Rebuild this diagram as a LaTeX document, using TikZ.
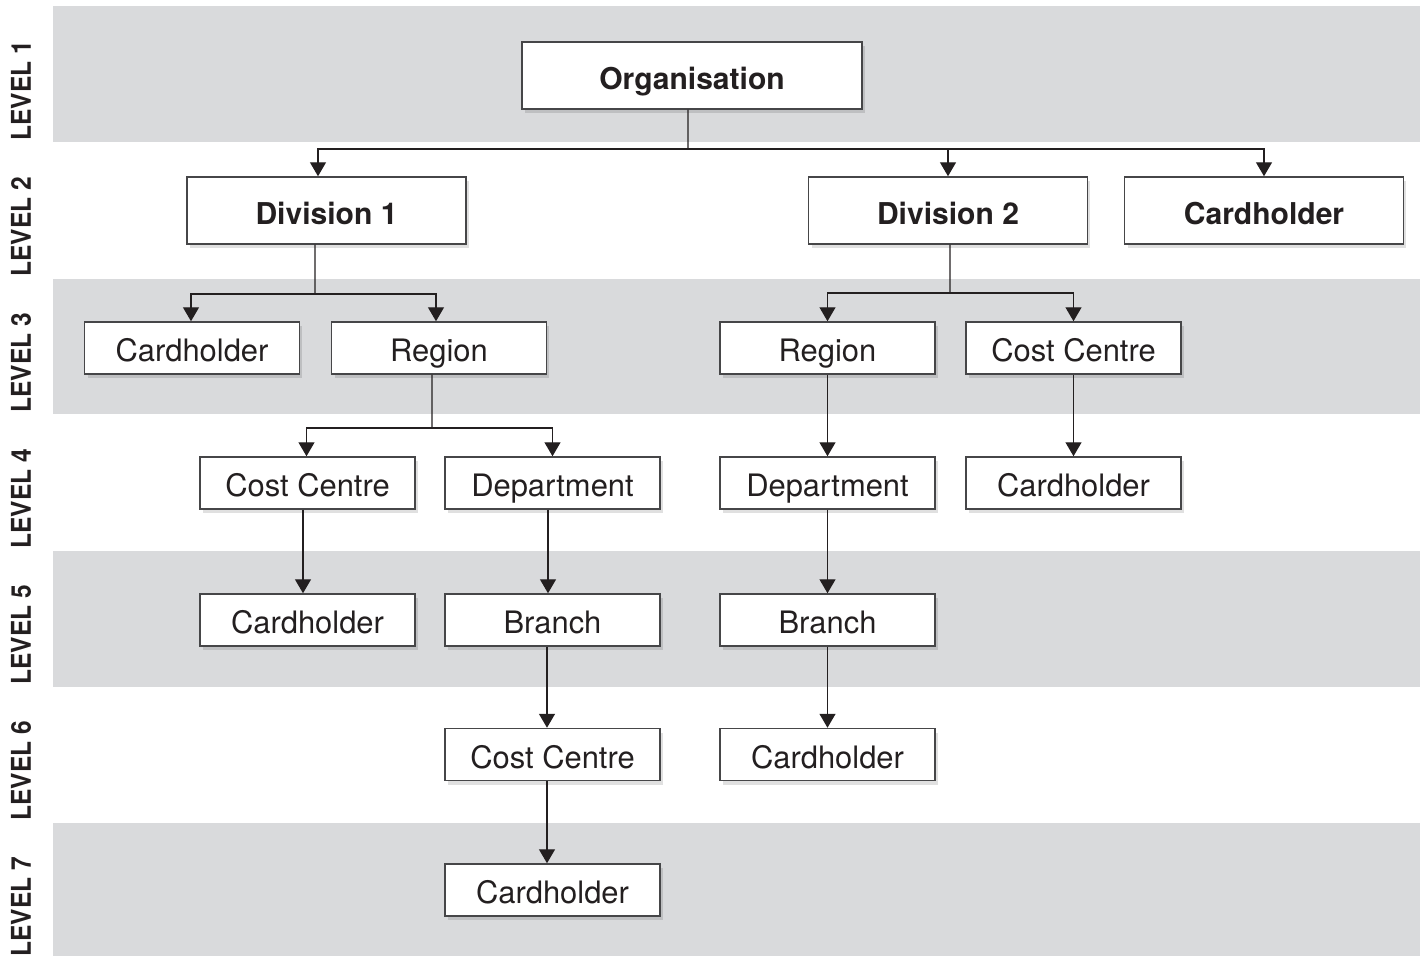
\documentclass[tikz,border=0pt]{standalone}
\usepackage{fontspec}
\setmainfont{TeX Gyre Heros}
\usepackage{graphicx}
\usetikzlibrary{arrows.meta,shadows}
\definecolor{band}{RGB}{217,218,220}
\definecolor{ink}{RGB}{35,31,32}
\definecolor{edge}{RGB}{70,70,72}
\tikzset{
  box/.style={draw=edge, line width=0.03cm, fill=white, text=ink, inner sep=0pt,
    text height=15.4pt, text depth=0pt,
    font=\fontsize{17.6}{20}\selectfont,
    drop shadow={shadow xshift=0.06cm, shadow yshift=-0.08cm, opacity=0.12, fill=black}},
  big/.style={box, minimum width=5.58cm, minimum height=1.34cm, font=\fontsize{17.1}{20}\selectfont\bfseries},
  small/.style={box, minimum width=4.3cm, minimum height=1.04cm},
  arr/.style={draw=ink, line width=0.028cm, -{Triangle[width=0.32cm,length=0.28cm]}},
  ln/.style={draw=ink, line width=0.028cm},
  lvl/.style={rotate=90, anchor=west, inner sep=0pt, text=ink,
    font=\fontsize{15.5}{18}\selectfont\bfseries},
}
\begin{document}
\begin{tikzpicture}[x=0.02cm,y=-0.02cm]
\useasboundingbox (0,0) rectangle (1426,956);
% bands
\fill[band] (53,6) rectangle (1420,142);
\fill[band] (53,279) rectangle (1420,414);
\fill[band] (53,551) rectangle (1420,687);
\fill[band] (53,823) rectangle (1420,956);
% level labels
\node[lvl] (l1) at (21,141) {\scalebox{0.9}[1]{LEVEL 1}};
\node[lvl] (l2) at (21,277) {\scalebox{0.9}[1]{LEVEL 2}};
\node[lvl] (l3) at (21,413) {\scalebox{0.9}[1]{LEVEL 3}};
\node[lvl] (l4) at (21,549) {\scalebox{0.9}[1]{LEVEL 4}};
\node[lvl] (l5) at (21,685) {\scalebox{0.9}[1]{LEVEL 5}};
\node[lvl] (l6) at (21,821) {\scalebox{0.9}[1]{LEVEL 6}};
\node[lvl] (l7) at (21,957) {\scalebox{0.9}[1]{LEVEL 7}};
% level 1
\node[big, minimum width=6.8cm] (org) at (692,75.5) {Organisation};
% level 2
\node[big] (div1) at (326.5,210.5) {Division 1};
\node[big] (div2) at (948,210.5) {Division 2};
\node[big] (ch2) at (1264,210.5) {Cardholder};
% level 3
\node[small] (ch3) at (192,348) {Cardholder};
\node[small] (reg1) at (439,348) {Region};
\node[small] (reg2) at (827.5,348) {Region};
\node[small] (cc3) at (1073.5,348) {Cost Centre};
% level 4
\node[small] (cc4) at (307.5,483) {Cost Centre};
\node[small] (dep1) at (552.5,483) {Department};
\node[small] (dep2) at (827.5,483) {Department};
\node[small] (ch4) at (1073.5,483) {Cardholder};
% level 5
\node[small] (ch5) at (307.5,620) {Cardholder};
\node[small] (br1) at (552.5,620) {Branch};
\node[small] (br2) at (827.5,620) {Branch};
% level 6
\node[small] (cc6) at (552.5,754.5) {Cost Centre};
\node[small] (ch6) at (827.5,754.5) {Cardholder};
% level 7
\node[small] (ch7) at (552.5,890) {Cardholder};
% junctions
\coordinate (j1) at (688,149);
\coordinate (j2) at (315,294);
\coordinate (j3) at (950,293);
\coordinate (j4) at (432,428);
% connectors
\draw[ln] ([xshift=-0.08cm]org.south) -- (j1);
\draw[arr] (j1) -| ([xshift=-0.17cm]div1.north);
\draw[arr] (j1) -| (div2.north);
\draw[arr] (j1) -| (ch2.north);
\draw[ln] ([xshift=-0.23cm]div1.south) -- (j2);
\draw[arr] (j2) -| ([xshift=-0.02cm]ch3.north);
\draw[arr] (j2) -| ([xshift=-0.06cm]reg1.north);
\draw[ln] ([xshift=-0.14cm]reg1.south) -- (j4);
\draw[arr] (j4) -| ([xshift=-0.02cm]cc4.north);
\draw[arr] (j4) -| (dep1.north);
\draw[ln] ([xshift=0.04cm]div2.south) -- (j3);
\draw[arr] (j3) -| (reg2.north);
\draw[arr] (j3) -| (cc3.north);
\draw[arr] ([xshift=-0.09cm]cc4.south) -- ([xshift=-0.09cm]ch5.north);
\draw[arr] ([xshift=-0.09cm]dep1.south) -- ([xshift=-0.09cm]br1.north);
\draw[arr] ([xshift=-0.11cm]br1.south) -- ([xshift=-0.11cm]cc6.north);
\draw[arr] ([xshift=-0.11cm]cc6.south) -- ([xshift=-0.11cm]ch7.north);
\draw[arr] (reg2.south) -- (dep2.north);
\draw[arr] (dep2.south) -- (br2.north);
\draw[arr] (br2.south) -- (ch6.north);
\draw[arr] (cc3.south) -- (ch4.north);
\end{tikzpicture}
\end{document}
